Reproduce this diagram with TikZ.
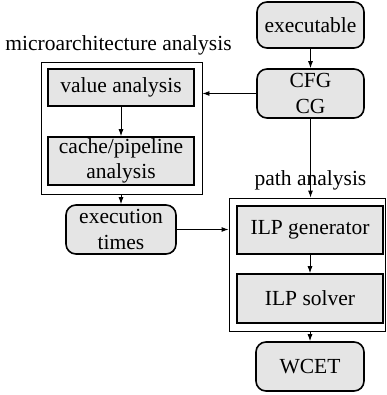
\documentclass[tikz,border=0pt]{standalone}
\usepackage{fontspec}
\setmainfont{Liberation Serif}
\usetikzlibrary{positioning,fit,arrows.meta}
\begin{document}
\begin{tikzpicture}[x=1pt,y=-1pt,
  font=\fontsize{21.5}{25.5}\selectfont,
  rbox/.style={draw, line width=1.6pt, fill=black!10, rounded corners=10pt, align=center, inner sep=0pt},
  sbox/.style={draw, line width=1.6pt, fill=black!10, align=center, inner sep=0pt},
  group/.style={draw, line width=0.9pt, inner sep=0pt},
  arr/.style={-{Latex[length=7pt,width=5pt]}, line width=0.9pt}]
\useasboundingbox (0,0) rectangle (386,395);
\node[rbox, minimum width=107pt, minimum height=46pt] (exe) at (310.5,25) {executable};
\node[rbox, minimum width=107pt, minimum height=49pt] (cfg) at (310.5,93.5) {CFG\\CG};
\node[sbox, minimum width=146pt, minimum height=37pt] (val) at (121,87.5) {value analysis};
\node[sbox, minimum width=146pt, minimum height=48pt] (cache) at (121,161) {cache/pipeline\\analysis};
\coordinate (m1) at (41,62);
\coordinate (m2) at (202,194);
\node[group, fit=(m1)(m2)] (micro) {};
\node (mlabel) at (118.5,45) {microarchitecture analysis};
\node[rbox, minimum width=110pt, minimum height=49pt] (ext) at (121,229.5) {execution\\times};
\node[sbox, minimum width=146pt, minimum height=48pt] (gen) at (310,230) {ILP generator};
\node[sbox, minimum width=146pt, minimum height=49pt] (sol) at (310,298.5) {ILP solver};
\coordinate (p1) at (229,198);
\coordinate (p2) at (385.5,331);
\node[group, fit=(p1)(p2)] (path) {};
\node (plabel) at (310.5,180) {path analysis};
\node[rbox, minimum width=108pt, minimum height=49pt] (wcet) at (310,366.5) {WCET};
\draw[arr] (exe) -- (cfg);
\draw[arr] (cfg.west) -- (micro.east |- cfg.west);
\draw[arr] (val) -- (cache);
\draw[arr] (cache.south |- micro.south) -- (ext);
\draw[arr] (cfg.south) -- (cfg.south |- path.north);
\draw[arr] (ext.east) -- (path.west |- ext.east);
\draw[arr] (gen) -- (sol);
\draw[arr] (sol.south |- path.south) -- (wcet);
\end{tikzpicture}
\end{document}
